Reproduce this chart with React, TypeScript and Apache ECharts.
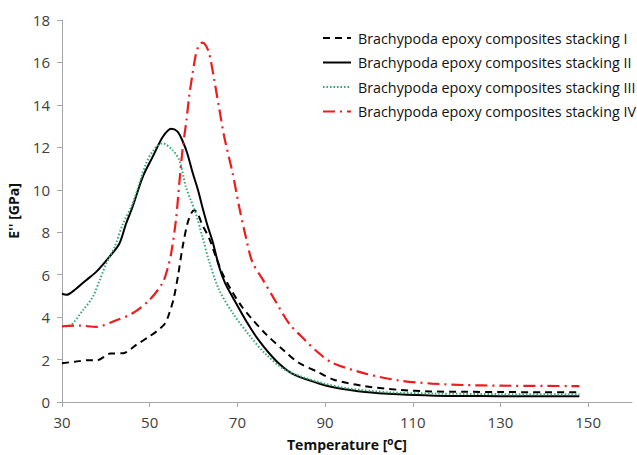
import React, { useEffect, useRef } from "react";
import * as echarts from "echarts";

const seriesNames = [
  "Brachypoda epoxy composites stacking I",
  "Brachypoda epoxy composites stacking II",
  "Brachypoda epoxy composites stacking III",
  "Brachypoda epoxy composites stacking IV",
];

const xTicks = [30, 50, 70, 90, 110, 130, 150];

const tempI = [30, 33, 36, 38, 41, 44, 47, 50, 52, 53.5, 54.5, 55.5, 56.5, 57.5, 58.6, 59.5, 60.2, 61, 62, 63.6, 65, 66.5, 68.8, 71, 73.4, 76.5, 81, 84, 88.5, 92, 99, 107, 114, 122, 130, 140, 148];
const valI = [1.83, 1.9, 1.97, 1.97, 2.28, 2.3, 2.7, 3.1, 3.4, 3.7, 4.2, 4.9, 6.0, 7.3, 8.4, 8.9, 9.03, 8.85, 8.35, 7.7, 6.9, 6.1, 5.2, 4.5, 3.9, 3.2, 2.35, 1.85, 1.4, 1.05, 0.75, 0.57, 0.5, 0.48, 0.47, 0.46, 0.46];

const tempII = [30, 31, 33, 35.5, 37.8, 40.8, 43.1, 44.6, 46.1, 48.4, 50.7, 53, 54.9, 56.3, 57.5, 58.6, 59.8, 61, 62, 63.2, 64.3, 65.8, 67.2, 68.9, 71.9, 74.9, 78.7, 82.5, 88.6, 91.6, 99.2, 106.7, 115, 125, 135, 148];
const valII = [5.1, 5.05, 5.3, 5.74, 6.13, 6.84, 7.47, 8.4, 9.2, 10.6, 11.56, 12.5, 12.88, 12.75, 12.3, 11.7, 10.8, 10.0, 9.2, 8.3, 7.6, 6.4, 5.6, 4.95, 3.85, 2.9, 1.97, 1.34, 0.87, 0.71, 0.47, 0.36, 0.3, 0.28, 0.27, 0.27];

const tempIII = [30, 32, 34.8, 37, 38.6, 40.1, 42, 43.9, 46.1, 49.2, 51, 53, 55.2, 56.75, 58.3, 59.4, 60.5, 62, 63.6, 65.8, 68.9, 72.7, 76.5, 81, 88.6, 95, 105, 115, 130, 148];
const valIII = [3.55, 3.62, 4.33, 4.95, 5.74, 6.53, 7.3, 8.4, 9.35, 11.25, 11.9, 12.19, 11.87, 11.4, 10.1, 9.5, 8.9, 7.8, 6.6, 5.3, 4.2, 3.15, 2.25, 1.5, 0.94, 0.65, 0.45, 0.4, 0.37, 0.36];

const tempIV = [30, 34, 37.8, 42.4, 46.1, 49.9, 52.9, 54.1, 54.9, 56, 56.75, 57.5, 58.4, 59, 59.8, 60.5, 61.2, 62, 62.8, 63.6, 64.7, 65.8, 67, 68.9, 70.4, 71.9, 73.4, 75.7, 78.7, 81.8, 85.5, 88.6, 91.6, 99.2, 106.7, 114.3, 121.8, 130, 148];
const valIV = [3.57, 3.6, 3.54, 3.85, 4.18, 4.8, 5.6, 6.3, 7.0, 8.6, 10.3, 11.9, 13.3, 14.4, 15.5, 16.35, 16.8, 16.93, 16.8, 16.4, 15.2, 13.9, 12.5, 10.8, 9.2, 7.8, 6.6, 5.8, 4.75, 3.7, 2.9, 2.3, 1.85, 1.34, 1.02, 0.87, 0.8, 0.77, 0.75];

const FONT = "'Open Sans', sans-serif";

function pairs(t: number[], v: number[]) {
  return t.map((x, i) => [x, v[i]]);
}

export default function App() {
  const ref = useRef<HTMLDivElement>(null);
  useEffect(() => {
    if (!ref.current) return;
    const chart = echarts.init(ref.current, null, { renderer: "svg" });
    const styles = [
      { color: "#000000", width: 2, type: [7, 5] as any },
      { color: "#000000", width: 2, type: "solid" as any },
      { color: "#2fa872", width: 2, type: [1.5, 2] as any },
      { color: "#ee1c1c", width: 2.2, type: [12, 5, 2, 5] as any },
    ];
    const data = [
      pairs(tempI, valI),
      pairs(tempII, valII),
      pairs(tempIII, valIII),
      pairs(tempIV, valIV),
    ];
    chart.setOption({
      animation: false,
      backgroundColor: "#ffffff",
      textStyle: { fontFamily: FONT },
      grid: { left: 62, right: 5, top: 20, bottom: 53, containLabel: false, outerBoundsMode: "none" },
      legend: {
        orient: "vertical",
        left: 317,
        top: 26,
        itemWidth: 28,
        itemHeight: 14,
        itemGap: 10.5,
        itemStyle: { opacity: 0 },
        textStyle: { fontFamily: FONT, fontSize: 14.3, color: "#111", padding: [0, 0, 0, 2] },
        data: seriesNames,
      },
      xAxis: {
        type: "value",
        min: 30,
        max: 160,
        interval: 20,
        name: "Temperature [{sup|o}C]",
        nameLocation: "middle",
        nameGap: 34,
        nameTextStyle: {
          fontSize: 14,
          fontWeight: "bold",
          color: "#111",
          fontFamily: FONT,
          rich: {
            sup: { fontSize: 10, fontWeight: "bold", color: "#111", verticalAlign: "top", padding: [0, 0, 6, 0] },
          },
        },
        axisLine: { show: true, lineStyle: { color: "#a6a6a6", width: 1 } },
        axisTick: { show: true, length: 5, inside: false, lineStyle: { color: "#a6a6a6" }, customValues: xTicks },
        axisLabel: { fontSize: 15, color: "#404040", margin: 12, fontFamily: FONT, customValues: xTicks },
        splitLine: { show: false },
      },
      yAxis: {
        type: "value",
        min: 0,
        max: 18,
        interval: 2,
        name: "E'' [GPa]",
        nameLocation: "middle",
        nameGap: 42,
        nameTextStyle: { fontSize: 14, fontWeight: "bold", color: "#111", fontFamily: FONT },
        axisLine: { show: true, lineStyle: { color: "#a6a6a6", width: 1 } },
        axisTick: { show: true, length: 5, inside: false, lineStyle: { color: "#a6a6a6" } },
        axisLabel: { fontSize: 15, color: "#404040", margin: 12, fontFamily: FONT },
        splitLine: { show: false },
      },
      series: seriesNames.map((name, i) => ({
        name,
        type: "line",
        data: data[i],
        symbol: "none",
        smooth: 0.3,
        lineStyle: styles[i],
        itemStyle: { color: styles[i].color },
        z: i === 3 ? 5 : 3,
      })),
    });
    return () => chart.dispose();
  }, []);
  return (
    <div
      ref={ref}
      style={{ position: "fixed", left: 0, top: 0, width: 637, height: 455, background: "#fff" }}
    />
  );
}
